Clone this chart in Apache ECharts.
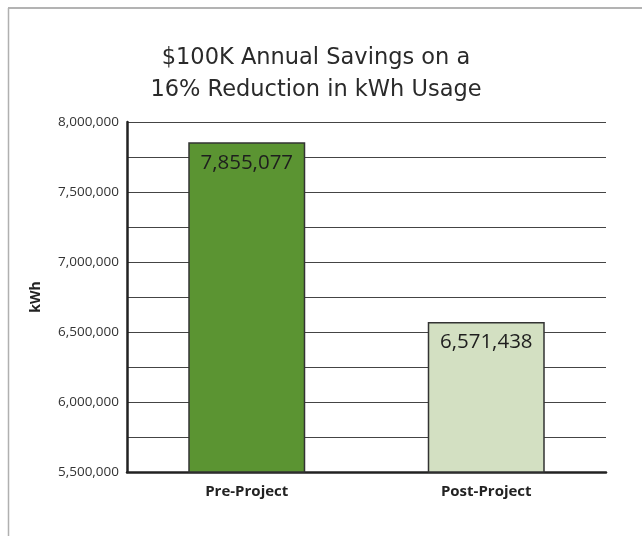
<!DOCTYPE html>
<html>
<head>
<meta charset="utf-8">
<script src="https://cdn.jsdelivr.net/npm/echarts@6/dist/echarts.min.js"></script>
<style>
html,body{margin:0;padding:0;background:#fff;}
#chart{width:642px;height:536px;}
</style>
</head>
<body>
<div id="chart"></div>
<script>
const categories = ['Pre-Project', 'Post-Project'];
const values = [7855077, 6571438];
const barColors = ['#5b9432', '#d3e0c2'];
const titleLines = ['$100K Annual Savings on a', '16% Reduction in kWh Usage'];
const yAxisName = 'kWh';

const chart = echarts.init(document.getElementById('chart'));
const fmt = v => v.toLocaleString('en-US');

chart.setOption({
  animation: false,
  backgroundColor: '#fff',
  graphic: [
    {type: 'line', shape: {x1: 8, y1: 8, x2: 642, y2: 8}, style: {stroke: '#9a9a9a', lineWidth: 1.5}},
    {type: 'line', shape: {x1: 8.5, y1: 8, x2: 8.5, y2: 536}, style: {stroke: '#b0b0b0', lineWidth: 1.5}}
  ],
  title: {
    text: titleLines.join('\n'),
    left: 311,
    textAlign: 'center',
    top: 37,
    textStyle: {fontFamily: 'DejaVu Sans', fontWeight: 'normal', fontSize: 22.5, color: '#2a2a2a', lineHeight: 32}
  },
  grid: {left: 127, right: 36, top: 122, bottom: 64},
  xAxis: {
    type: 'category',
    data: categories,
    axisLine: {lineStyle: {color: '#222', width: 2.5}},
    axisTick: {show: false},
    axisLabel: {fontFamily: 'Open Sans', fontWeight: 'bold', fontSize: 15, color: '#222', margin: 12}
  },
  yAxis: {
    type: 'value',
    min: 5500000,
    max: 8000000,
    interval: 250000,
    name: yAxisName,
    nameLocation: 'middle',
    nameRotate: 90,
    nameGap: 84,
    nameTextStyle: {fontFamily: 'Open Sans', fontWeight: 'bold', fontSize: 14, color: '#222'},
    axisLine: {show: true, lineStyle: {color: '#222', width: 2.5}},
    axisTick: {show: false},
    axisLabel: {
      fontFamily: 'Open Sans', fontSize: 13.5, color: '#333', margin: 8,
      formatter: v => (Math.round(v) % 500000 === 0 ? fmt(v) : '')
    },
    splitLine: {lineStyle: {color: '#444', width: 1.2}}
  },
  series: [{
    type: 'bar',
    barWidth: 117,
    data: values.map((v, i) => ({value: v, itemStyle: {color: barColors[i]}})),
    itemStyle: {borderColor: '#333', borderWidth: 1.5},
    label: {
      show: true,
      position: 'insideTop',
      distance: 10,
      formatter: p => fmt(p.value),
      fontFamily: 'Open Sans', fontSize: 20.5, color: '#1e1e1e'
    }
  }]
});
</script>
</body>
</html>
